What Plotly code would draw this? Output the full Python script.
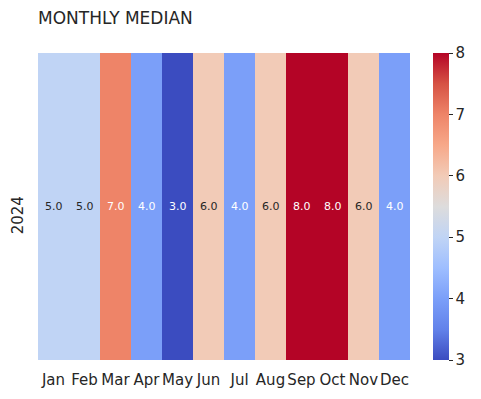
import plotly.graph_objects as go

months = ["Jan", "Feb", "Mar", "Apr", "May", "Jun", "Jul", "Aug", "Sep", "Oct", "Nov", "Dec"]
years = ["2024"]
medians = [5.0, 5.0, 7.0, 4.0, 3.0, 6.0, 4.0, 6.0, 8.0, 8.0, 6.0, 4.0]
cbar_ticks = [3, 4, 5, 6, 7, 8]

coolwarm = [
    [0.0, "rgb(59,76,192)"],
    [0.1, "rgb(98,130,234)"],
    [0.2, "rgb(123,159,249)"],
    [0.3, "rgb(158,190,255)"],
    [0.4, "rgb(192,212,245)"],
    [0.5, "rgb(221,220,220)"],
    [0.6, "rgb(242,203,183)"],
    [0.7, "rgb(247,168,137)"],
    [0.8, "rgb(238,132,104)"],
    [0.9, "rgb(214,82,68)"],
    [1.0, "rgb(180,4,38)"],
]

zmin, zmax = 3, 8
FONT = "DejaVu Sans"
DARK = "#262626"

# one-row heatmap drawn as full-height cells, coloured through the colour scale
fig = go.Figure(go.Bar(
    x=months, y=[1] * len(months), base=0, width=1,
    marker=dict(
        color=medians, colorscale=coolwarm, cmin=zmin, cmax=zmax,
        line=dict(width=0),
        showscale=True,
        colorbar=dict(
            thickness=16, len=1, lenmode="fraction", y=0.5, yanchor="middle",
            x=1.0618, xanchor="left", xpad=0, ypad=0,
            outlinewidth=0, tickvals=cbar_ticks,
            ticks="outside", ticklen=4, tickwidth=1, tickcolor=DARK,
            tickfont=dict(family=FONT, size=15, color=DARK),
        ),
    ),
    hoverinfo="skip",
))

annotations = []
for m, v in zip(months, medians):
    frac = (v - zmin) / (zmax - zmin)
    color = DARK if 0.3 < frac < 0.7 else "white"
    annotations.append(dict(
        x=m, y=0.5, xref="x", yref="y", text=f"{v:.1f}",
        showarrow=False, font=dict(family=FONT, size=11, color=color),
    ))

# the page adds an 8px body margin, so the figure is shifted up/left by 8px
fig.update_layout(
    width=481, height=399,
    margin=dict(l=30, r=79, t=45, b=47),
    paper_bgcolor="white", plot_bgcolor="white",
    bargap=0,
    font=dict(family=FONT, color=DARK),
    title=dict(text="MONTHLY MEDIAN", x=30/481, xanchor="left", y=1-10/399, yanchor="middle",
               font=dict(family=FONT, size=17, color=DARK)),
    annotations=annotations,
    xaxis=dict(type="category", range=[-0.5, 11.5], showgrid=False, zeroline=False, tickangle=0,
               ticks="outside", ticklen=6, tickcolor="white", automargin=False,
               tickfont=dict(family=FONT, size=15, color=DARK)),
    yaxis=dict(range=[0, 1], tickvals=[0.5], ticktext=years, showgrid=False, zeroline=False,
               tickangle=-90, ticks="outside", ticklen=8, tickcolor="white", automargin=False,
               ticklabelshift=11,
               tickfont=dict(family=FONT, size=15, color=DARK)),
)

fig.write_html("out.html")
